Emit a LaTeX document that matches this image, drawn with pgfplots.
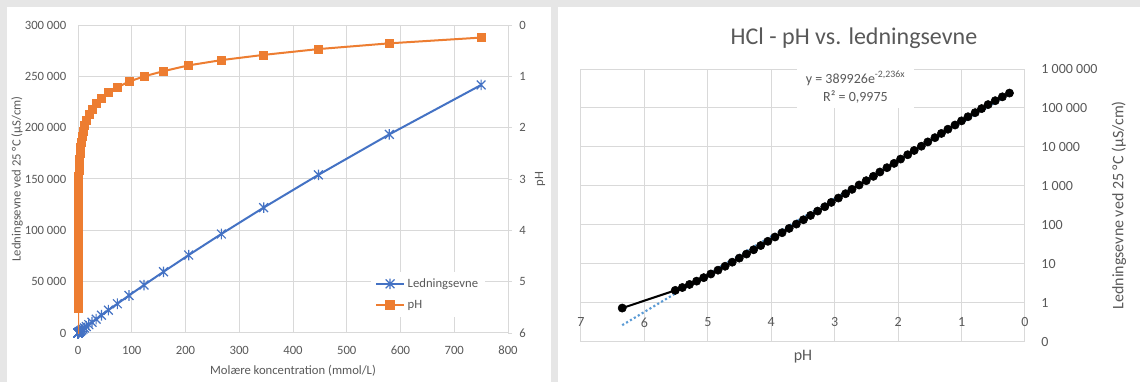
\documentclass[border=0pt]{standalone}
\usepackage{fontspec}
\setmainfont{Carlito}
\usepackage{pgfplots}
\pgfplotsset{compat=1.18}
\usepackage{pgfplotstable}
\definecolor{xlblue}{HTML}{4472C4}
\definecolor{xlorange}{HTML}{ED7D31}
\definecolor{xltext}{HTML}{595959}
\definecolor{xlgrid}{HTML}{D9D9D9}
\definecolor{xlbg}{HTML}{E6E6E6}
\definecolor{xltrend}{HTML}{5B9BD5}

\pgfdeclareplotmark{xstar}{%
  \pgfpathmoveto{\pgfqpoint{-\pgfplotmarksize}{-\pgfplotmarksize}}%
  \pgfpathlineto{\pgfqpoint{\pgfplotmarksize}{\pgfplotmarksize}}%
  \pgfpathmoveto{\pgfqpoint{-\pgfplotmarksize}{\pgfplotmarksize}}%
  \pgfpathlineto{\pgfqpoint{\pgfplotmarksize}{-\pgfplotmarksize}}%
  \pgfpathmoveto{\pgfqpoint{0pt}{-1.2\pgfplotmarksize}}%
  \pgfpathlineto{\pgfqpoint{0pt}{1.2\pgfplotmarksize}}%
  \pgfusepathqstroke}

\pgfplotstableread{
c pH k
750 0.245 241600
579.2 0.357 193450
447.3 0.469 154060
345.4 0.582 122130
266.7 0.684 96450
205.9 0.786 75920
159.0 0.899 59610
122.8 1.001 46710
94.83 1.103 36530
73.22 1.215 28510
56.54 1.318 22230
43.66 1.420 17310
33.72 1.532 13460
26.04 1.634 10460
20.10 1.747 8120
15.53 1.849 6304
11.99 1.961 4887
9.258 2.064 3788
7.149 2.176 2934
5.520 2.288 2272
4.263 2.390 1760
3.292 2.503 1362
2.542 2.615 1054
1.963 2.727 815.4
1.516 2.829 630.8
1.170 2.942 487.6
0.9038 3.054 377.3
0.6979 3.156 291.8
0.5389 3.269 225.7
0.4162 3.381 174.6
0.3214 3.493 135.1
0.2481 3.605 104.6
0.1916 3.718 81.0
0.1480 3.830 62.8
0.1143 3.942 48.7
0.08825 4.054 37.8
0.06815 4.167 29.4
0.05262 4.279 22.9
0.04064 4.391 17.8
0.03138 4.504 14.0
0.02423 4.616 11.0
0.01871 4.728 8.65
0.01445 4.840 6.86
0.01116 4.953 5.48
0.008615 5.065 4.41
0.006653 5.177 3.59
0.005137 5.289 2.95
0.003967 5.402 2.46
0.003063 5.514 2.08
0 6.35 0.73
}\data

\begin{document}
\begin{tikzpicture}
\fill[xlbg] (0,0) rectangle (855pt,286.5pt);
\fill[white] (5.25pt,0) rectangle (413.25pt,281.25pt);
\fill[white] (418.5pt,0) rectangle (855pt,281.25pt);

% ---------- left chart, primary axis ----------
\begin{axis}[
  at={(58.5pt,36.75pt)}, anchor=south west,
  scale only axis, width=322.5pt, height=231pt,
  xmin=0, xmax=800, ymin=0, ymax=300000,
  xtick={0,100,...,800}, ytick={0,50000,...,300000},
  yticklabels={0,50 000,100 000,150 000,200 000,250 000,300 000},
  scaled ticks=false,
  grid=major, grid style={xlgrid,line width=0.75pt},
  axis line style={xlgrid,line width=0.75pt},
  major tick length=0pt,
  tick label style={font=\fontsize{9.5}{11}\selectfont, text=xltext},
  /pgf/number format/assume math mode=true,
  xticklabel style={yshift=-6.3pt},
  yticklabel style={xshift=-5.3pt},
  xlabel={Molære koncentration (mmol/L)},
  ylabel={Ledningsevne ved 25 °C (µS/cm)},
  label style={font=\fontsize{9.5}{11}\selectfont, text=xltext},
  xlabel style={at={(axis description cs:0.5,0)}, anchor=center, yshift=-28.5pt},
  ylabel style={at={(axis description cs:-0.1419,0.5)}, anchor=center},
]
\addplot[xlblue, line width=1.5pt, mark=xstar, mark size=3.3pt,
  mark options={solid, line width=0.9pt}] table[x=c,y=k]{\data};
\end{axis}

% ---------- left chart, secondary axis (pH) ----------
\begin{axis}[
  at={(58.5pt,36.75pt)}, anchor=south west,
  scale only axis, width=322.5pt, height=231pt,
  xmin=0, xmax=800, ymin=0, ymax=6, y dir=reverse,
  axis x line=none, axis y line*=right,
  ytick={0,1,...,6},
  axis line style={xlgrid,line width=0.75pt},
  major tick length=3pt, tick align=outside,
  tick style={xlgrid,line width=0.75pt},
  tick label style={font=\fontsize{9.5}{11}\selectfont, text=xltext},
  /pgf/number format/assume math mode=true,
  yticklabel style={xshift=2pt},
  ylabel={pH},
  label style={font=\fontsize{9.5}{11}\selectfont, text=xltext},
  ylabel style={at={(axis description cs:1.0744,0.5)}, anchor=center},
  legend cell align=left,
  legend style={at={(axis description cs:0.9465,0.052)}, anchor=south east,
    draw=none, fill=white, font=\fontsize{9.5}{11}\selectfont, text=xltext,
    row sep=4pt, inner sep=3pt},
  legend image code/.code={\draw[mark repeat=2,mark phase=2,#1] plot coordinates {(0pt,0pt) (10.5pt,0pt) (21pt,0pt)};},
]
\addlegendimage{xlblue, line width=1.5pt, mark=xstar, mark size=3.3pt, mark options={solid, line width=0.9pt}}
\addlegendentry{Ledningsevne}
\addlegendimage{xlorange, line width=1.5pt, mark=square*, mark size=3pt}
\addlegendentry{pH}
\addplot[xlorange, line width=1.5pt, no markers, forget plot] table[x=c,y=pH]{\data};
\addplot[xlorange, only marks, mark=square*, mark size=3pt, forget plot,
  restrict y to domain=0:6] table[x=c,y=pH]{\data};
\end{axis}

% ---------- right chart ----------
\begin{axis}[
  at={(435.75pt,30.225pt)}, anchor=south west,
  scale only axis, width=333pt, height=204.5pt,
  xmin=0, xmax=7, x dir=reverse,
  ymode=log, log basis y=10, ymin=0.1, ymax=1000000,
  xtick={0,1,...,7},
  ytick={0.1,1,10,100,1000,10000,100000,1000000},
  yticklabels={0,1,10,100,1 000,10 000,100 000,1 000 000},
  yticklabel pos=right,
  grid=major, grid style={xlgrid,line width=0.75pt},
  axis line style={xlgrid,line width=0.75pt},
  major tick length=0pt, minor tick length=0pt, minor y tick num=0,
  tick label style={font=\fontsize{10.5}{12}\selectfont, text=xltext},
  /pgf/number format/assume math mode=true,
  xticklabel style={yshift=21.6pt},
  yticklabel style={xshift=8.8pt, anchor=west},
  xlabel={pH},
  ylabel={Ledningsevne ved 25 °C (µS/cm)},
  label style={font=\fontsize{12}{14}\selectfont, text=xltext},
  xlabel style={at={(axis description cs:0.5,0)}, anchor=center, yshift=-11.5pt},
  ylabel style={at={(axis description cs:1.2117,0.5)}, anchor=center},
]
\addplot[black, line width=1.5pt, mark=*, mark size=3.1pt,
  mark options={solid, fill=black, line width=0.4pt}] table[x=pH,y=k]{\data};
\addplot[xltrend, line width=1.6pt, dash pattern=on 1.6pt off 1.8pt, no markers]
  coordinates {(6.35,0.2658) (0.245,225460)};
\end{axis}

\node[font=\fontsize{18}{21}\selectfont, text=xltext] at (640.5pt,258pt) {HCl - pH vs. ledningsevne};
\node[fill=white, align=center, font=\fontsize{10.5}{13.5}\selectfont, text=xltext,
  minimum width=87.75pt, minimum height=32pt, inner sep=1pt]
  at (641.6pt,221.25pt) {y = 389926e\textsuperscript{-2,236x}\\R² = 0,9975};

\pgfresetboundingbox
\useasboundingbox (0,0) rectangle (855pt,286.5pt);
\end{tikzpicture}
\end{document}
